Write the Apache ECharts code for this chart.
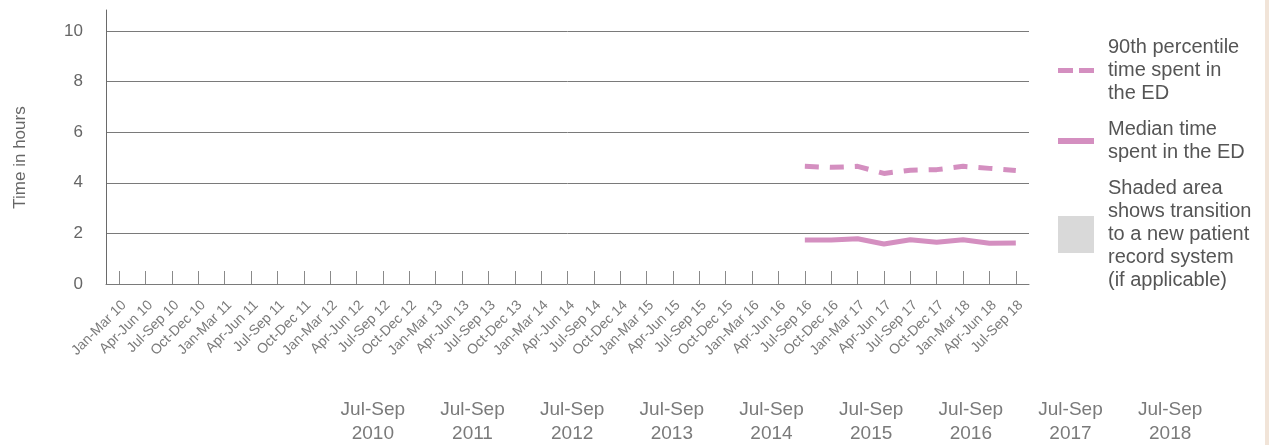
<!DOCTYPE html>
<html>
<head>
<meta charset="utf-8">
<script src="https://cdn.jsdelivr.net/npm/echarts@6/dist/echarts.min.js"></script>
<style>
html,body{margin:0;padding:0;background:#fff;}
#c{width:1269px;height:445px;}
</style>
</head>
<body>
<div id="c"></div>
<script>
const categories = [
  'Jan-Mar 10','Apr-Jun 10','Jul-Sep 10','Oct-Dec 10',
  'Jan-Mar 11','Apr-Jun 11','Jul-Sep 11','Oct-Dec 11',
  'Jan-Mar 12','Apr-Jun 12','Jul-Sep 12','Oct-Dec 12',
  'Jan-Mar 13','Apr-Jun 13','Jul-Sep 13','Oct-Dec 13',
  'Jan-Mar 14','Apr-Jun 14','Jul-Sep 14','Oct-Dec 14',
  'Jan-Mar 15','Apr-Jun 15','Jul-Sep 15','Oct-Dec 15',
  'Jan-Mar 16','Apr-Jun 16','Jul-Sep 16','Oct-Dec 16',
  'Jan-Mar 17','Apr-Jun 17','Jul-Sep 17','Oct-Dec 17',
  'Jan-Mar 18','Apr-Jun 18','Jul-Sep 18'
];
const p90 = [null,null,null,null,null,null,null,null,null,null,null,null,null,null,null,null,null,null,null,null,null,null,null,null,null,null,
  4.65,4.61,4.65,4.37,4.50,4.52,4.65,4.57,4.49];
const median = [null,null,null,null,null,null,null,null,null,null,null,null,null,null,null,null,null,null,null,null,null,null,null,null,null,null,
  1.74,1.74,1.79,1.58,1.75,1.65,1.75,1.61,1.62];
const yearLabels = ['Jul-Sep\n2010','Jul-Sep\n2011','Jul-Sep\n2012','Jul-Sep\n2013','Jul-Sep\n2014','Jul-Sep\n2015','Jul-Sep\n2016','Jul-Sep\n2017','Jul-Sep\n2018'];
const yTicks = [0,2,4,6,8,10];

const names = {
  p90: '90th percentile\ntime spent in\nthe ED',
  med: 'Median time\nspent in the ED',
  shade: 'Shaded area\nshows transition\nto a new patient\nrecord system\n(if applicable)'
};
const pink = '#d48fc0';
const font = 'Liberation Sans, Arial, sans-serif';

const chart = echarts.init(document.getElementById('c'), null, {renderer:'canvas'});
chart.setOption({
  animation: false,
  textStyle: {fontFamily: font},
  grid: [
    {left: 106, right: 240, top: 10, bottom: 161, containLabel: false},
    {left: 323, right: 49, top: 392, height: 1, containLabel: false}
  ],
  xAxis: [
    {
      type: 'category', gridIndex: 0, data: categories, boundaryGap: true,
      axisLine: {show: true, lineStyle: {color: '#7a7a7a', width: 1}},
      axisTick: {show: true, inside: true, length: 13, alignWithLabel: true, lineStyle: {color: '#8a8a8a'}},
      axisLabel: {rotate: 45, interval: 0, margin: 14, fontSize: 14, color: '#7a7a7a', fontFamily: font, verticalAlign: 'top'},
      splitLine: {show: false}
    },
    {
      type: 'category', gridIndex: 1, data: yearLabels, boundaryGap: true,
      axisLine: {show: false}, axisTick: {show: false},
      axisLabel: {interval: 0, margin: 6, fontSize: 19, lineHeight: 24, color: '#7a7a7a', fontFamily: font}
    }
  ],
  yAxis: [
    {
      type: 'value', gridIndex: 0, min: 0, max: 10.83, interval: 2,
      name: 'Time in hours', nameLocation: 'middle', nameGap: 77, nameRotate: 90,
      nameTextStyle: {fontSize: 17, color: '#666', fontFamily: font, padding: [0, 21, 0, 0]},
      axisLine: {show: true, lineStyle: {color: '#6a6a6a', width: 1}},
      axisTick: {show: false},
      axisLabel: {margin: 23, fontSize: 17, color: '#666', fontFamily: font, showMaxLabel: false,
        formatter: v => (yTicks.indexOf(v) >= 0 ? String(v) : '')},
      splitLine: {show: true, showMaxLine: false, showMinLine: false, lineStyle: {color: '#7a7a7a', width: 1}}
    },
    {
      type: 'value', gridIndex: 1, show: false, min: 0, max: 1,
      axisLine: {show: false}, splitLine: {show: false}, axisLabel: {show: false}
    }
  ],
  legend: {
    orient: 'vertical', left: 1055, top: 36, padding: 0, itemWidth: 36, itemHeight: 37, itemGap: 13,
    textStyle: {fontSize: 20, lineHeight: 23, color: '#555', fontFamily: font, padding: [0,0,0,9]},
    selectedMode: false,
    data: [
      {name: names.p90, itemStyle: {opacity: 0}, lineStyle: {color: pink, width: 5, type: [15, 6]}},
      {name: names.med, itemStyle: {opacity: 0}, lineStyle: {color: pink, width: 6}},
      {name: names.shade, icon: 'rect', itemStyle: {color: '#d9d9d9'}}
    ]
  },
  series: [
    {
      name: names.p90, type: 'line', xAxisIndex: 0, yAxisIndex: 0, data: p90,
      symbol: 'none', connectNulls: false,
      lineStyle: {color: pink, width: 5, type: [14, 11]}, itemStyle: {color: pink}
    },
    {
      name: names.med, type: 'line', xAxisIndex: 0, yAxisIndex: 0, data: median,
      symbol: 'none',
      lineStyle: {color: pink, width: 5}, itemStyle: {color: pink}
    },
    {
      name: names.shade, type: 'bar', xAxisIndex: 0, yAxisIndex: 0, data: [],
      itemStyle: {color: '#d9d9d9'}
    }
  ],
  graphic: [
    {type: 'rect', right: 0, top: 0, shape: {width: 4, height: 445}, style: {fill: '#f1e4d8'}, silent: true}
  ]
});
</script>
</body>
</html>
